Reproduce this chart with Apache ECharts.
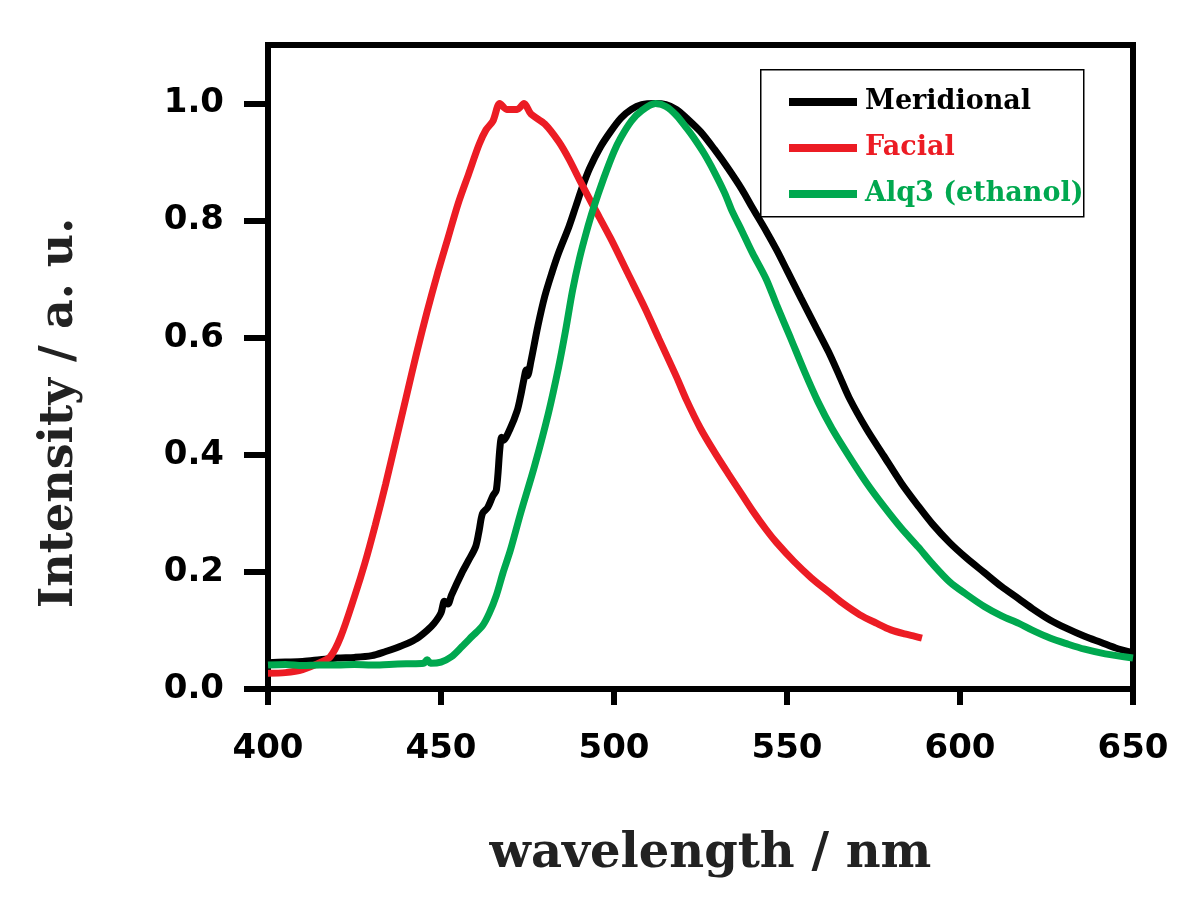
<!DOCTYPE html>
<html>
<head>
<meta charset="utf-8">
<script src="https://cdn.jsdelivr.net/npm/echarts@6/dist/echarts.min.js"></script>
<style>html,body{margin:0;padding:0;background:#fff}#c{width:1200px;height:901px}</style>
</head>
<body>
<div id="c"></div>
<script>
// ---- data ----
var seriesNames = ['Meridional', 'Facial', 'Alq3 (ethanol)'];

var merX = [400,405,410,415,420,425,430,434,437,440,443,446,448,450,451,452,453,456,458,460,461,462,463.5,465,466,467,467.5,468,470,472,473,474,474.6,475,476,478,480,482,484,487,489,491,493,496,499,502,505,508,512,515,518,521,525,529,533,537,540,544,547,550,554,558,562,565,568,573,578,583,588,592,597,602,607,612,617,621,626,631,636,641,645,650];
var merY = [0.045,0.046,0.047,0.05,0.053,0.054,0.057,0.064,0.07,0.077,0.086,0.1,0.112,0.13,0.15,0.145,0.16,0.198,0.22,0.243,0.27,0.30,0.31,0.33,0.34,0.41,0.43,0.425,0.445,0.475,0.5,0.53,0.545,0.535,0.56,0.62,0.671,0.71,0.745,0.79,0.825,0.86,0.89,0.925,0.952,0.975,0.99,0.998,1.0,0.998,0.99,0.975,0.952,0.922,0.889,0.853,0.822,0.782,0.75,0.715,0.668,0.622,0.576,0.537,0.497,0.444,0.398,0.352,0.312,0.282,0.25,0.223,0.199,0.175,0.154,0.137,0.118,0.103,0.09,0.079,0.07,0.062];

var facX = [400,405,410,415,418,421,425,428,431,434,437,440,443,446,449,452,455,458,461,463,465,467,469,472,474,476,480,484,487,490,494,499,504,509,513,518,521,525,529,533,537,540,544,547,552,557,562,566,571,576,580,584,587,589];
var facY = [0.027,0.028,0.033,0.045,0.055,0.089,0.158,0.215,0.28,0.35,0.425,0.5,0.575,0.645,0.71,0.77,0.83,0.88,0.93,0.955,0.97,1.0,0.99,0.99,1.0,0.982,0.965,0.935,0.905,0.87,0.825,0.77,0.71,0.65,0.598,0.534,0.493,0.445,0.405,0.368,0.332,0.305,0.272,0.25,0.218,0.19,0.166,0.147,0.127,0.112,0.101,0.094,0.09,0.087];

var alqX = [400,405,410,415,420,425,430,435,440,445,446,447,450,453,456,459,462,464,466,468,470,473,477,481,484,486,488,490,492,494,497,500,502,505,508,512,515,518,521,523,526,529,532,534,537,540,544,547,551,555,559,563,568,573,578,583,588,592,597,602,607,612,617,621,626,631,636,642,650];
var alqY = [0.041,0.042,0.04,0.041,0.041,0.042,0.041,0.042,0.043,0.044,0.05,0.044,0.046,0.055,0.072,0.09,0.108,0.13,0.16,0.2,0.236,0.3,0.38,0.47,0.55,0.612,0.68,0.735,0.78,0.82,0.872,0.918,0.942,0.97,0.988,1.0,0.995,0.98,0.958,0.942,0.915,0.883,0.847,0.818,0.782,0.745,0.70,0.656,0.6,0.543,0.49,0.445,0.397,0.352,0.312,0.275,0.242,0.214,0.183,0.161,0.141,0.125,0.112,0.1,0.087,0.077,0.068,0.06,0.053];

var xTicks = [400, 450, 500, 550, 600, 650];
var yTicks = [0.0, 0.2, 0.4, 0.6, 0.8, 1.0];
var xTitle = 'wavelength / nm';
var yTitle = 'Intensity / a. u.';
var colors = ['#000000', '#EC1C24', '#00A84F'];

function pairs(xs, ys) { return xs.map(function (x, i) { return [x, ys[i]]; }); }

var chart = echarts.init(document.getElementById('c'), null, {renderer: 'canvas'});
var serifBold = {fontFamily: 'DejaVu Serif', fontWeight: 'bold'};
var sansBold = {fontFamily: 'DejaVu Sans', fontWeight: 'bold', fontSize: 34, color: '#000'};

chart.setOption({
  animation: false,
  backgroundColor: '#fff',
  grid: {left: 268, right: 67, top: 45, bottom: 212, show: true, borderColor: '#000', borderWidth: 6, backgroundColor: 'transparent'},
  xAxis: {
    type: 'value', min: xTicks[0], max: xTicks[xTicks.length - 1], interval: 50,
    axisLine: {lineStyle: {color: '#000', width: 6}},
    axisTick: {length: 16, lineStyle: {color: '#000', width: 6}},
    axisLabel: Object.assign({margin: 43}, sansBold),
    splitLine: {show: false},
    name: xTitle, nameLocation: 'middle', nameGap: 142,
    nameTextStyle: Object.assign({fontSize: 48, color: '#222', padding: [0, 0, 0, 20]}, serifBold)
  },
  yAxis: {
    type: 'value', min: 0, max: 1.1, interval: 0.2,
    axisLine: {lineStyle: {color: '#000', width: 6}},
    axisTick: {length: 24, lineStyle: {color: '#000', width: 6}},
    axisLabel: Object.assign({margin: 44, showMaxLabel: false, formatter: function (v) { return v.toFixed(1); }}, sansBold),
    splitLine: {show: false}
  },
  legend: {
    orient: 'vertical', left: 789, top: 87, padding: 0, itemGap: 16,
    icon: 'rect', itemWidth: 68, itemHeight: 8,
    textStyle: Object.assign({fontSize: 27, lineHeight: 30, padding: [0, 0, 0, 3]}, serifBold),
    data: seriesNames.map(function (n, i) { return {name: n, textStyle: {color: colors[i]}}; })
  },
  graphic: [
    {type: 'rect', left: 760, top: 69, z: 0, shape: {width: 323, height: 147}, style: {fill: '#fff', stroke: '#000', lineWidth: 1.5}},
    {type: 'text', x: 60, y: 413, rotation: Math.PI / 2, style: {text: yTitle, fontSize: 46, fontFamily: 'DejaVu Serif', fontWeight: 'bold', fill: '#222', textAlign: 'center', textVerticalAlign: 'middle'}}
  ],
  series: [
    {name: seriesNames[0], type: 'line', data: pairs(merX, merY), showSymbol: false, smooth: 0.3, lineStyle: {color: colors[0], width: 7}, itemStyle: {color: colors[0]}, z: 3},
    {name: seriesNames[1], type: 'line', data: pairs(facX, facY), showSymbol: false, smooth: 0.3, lineStyle: {color: colors[1], width: 7}, itemStyle: {color: colors[1]}, z: 4},
    {name: seriesNames[2], type: 'line', data: pairs(alqX, alqY), showSymbol: false, smooth: 0.3, lineStyle: {color: colors[2], width: 7}, itemStyle: {color: colors[2]}, z: 5}
  ]
});
</script>
</body>
</html>
